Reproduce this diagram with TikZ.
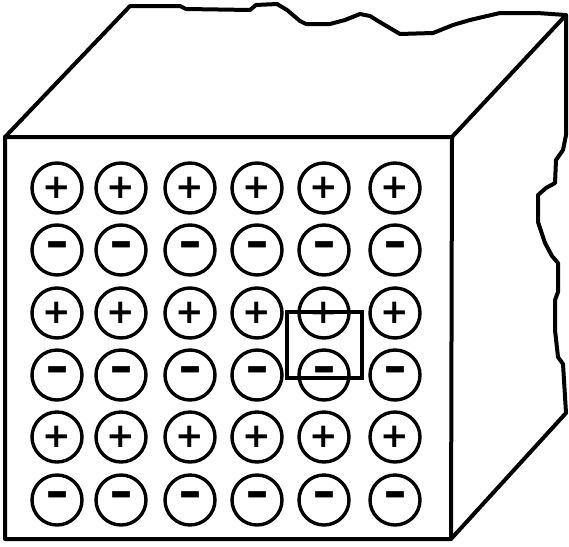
\documentclass[tikz,border=0pt]{standalone}
\usepackage{fontspec}
\usepackage{graphicx}
\newfontfamily\signfont{DejaVu Sans}
\newcommand{\plussign}{+}
\newcommand{\minussign}{\scalebox{1.7}[1.3]{-}}
\begin{document}
\begin{tikzpicture}[x=1pt,y=-1pt,
  edge/.style={line width=4pt, line join=round, line cap=round},
  ion/.style={circle, draw, line width=3.4pt, minimum size=50pt, inner sep=0pt,
    font=\signfont\bfseries\fontsize{34}{34}\selectfont},
  cellbox/.style={draw, line width=3.2pt, minimum width=75pt, minimum height=66pt, inner sep=0pt}]
\useasboundingbox (0,0) rectangle (569,546);
% corners
\coordinate (ftl) at (5,137);
\coordinate (ftr) at (452,137);
\coordinate (fbr) at (451,539);
\coordinate (fbl) at (5,539);
\coordinate (btl) at (130,6);
\coordinate (btr) at (566,15);
\coordinate (bbr) at (566,413);
% front face
\draw[edge] (ftl) -- (ftr) -- (fbr) -- (fbl) -- cycle;
% top face with torn back edge
\draw[edge] (ftl) -- (btl) -- (180,6) -- (186,9) -- (250,10) -- (256,5) -- (277,4)
  -- (287,10) -- (300,21) -- (306,24) -- (330,24) -- (345,20) -- (360,14) -- (370,16)
  -- (378,21) -- (400,34) -- (433,33) -- (453,25) -- (470,20) -- (487,16) -- (500,13)
  -- (537,13) -- (btr) -- (ftr);
% right face with torn back edge
\draw[edge] (btr) -- (566,135) -- (563,150) -- (556,160) -- (555,183) -- (546,188)
  -- (538,195) -- (538,222) -- (545,243) -- (552,256) -- (558,263) -- (558,292)
  -- (555,300) -- (555,330) -- (558,357) -- (563,364) -- (bbr) -- (fbr);
% ions
\foreach \r/\y/\s in {1/188/\plussign,2/250/\minussign,3/313/\plussign,4/375/\minussign,5/437/\plussign,6/500/\minussign}{
  \foreach \c/\x in {1/57,2/121,3/190,4/257,5/324,6/395}{
    \node[ion] (c\r\c) at (\x,\y) {\s};
  }
}
% unit cell
\node[cellbox] (cell) at (324.5,345) {};
\end{tikzpicture}
\end{document}
